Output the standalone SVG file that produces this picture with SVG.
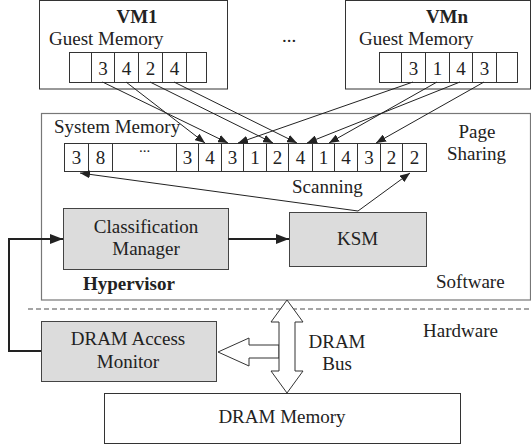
<svg xmlns="http://www.w3.org/2000/svg" width="531" height="446" viewBox="0 0 531 446">
  <style>
    text { font-family: "Liberation Serif", "Times New Roman", serif; font-size: 19px; fill: #222; }
    .b { font-weight: bold; }
    .box { fill: #fff; stroke: #333; stroke-width: 1; }
    .frame { fill: none; stroke: #777; stroke-width: 1.2; }
    .gray { fill: #dcdcdc; stroke: #444; stroke-width: 1; }
    .cell { fill: #fff; stroke: #333; stroke-width: 1; }
    .ln { fill: none; stroke: #222; stroke-width: 1; }
    .thick { fill: none; stroke: #222; stroke-width: 2; }
    .block { fill: #fff; stroke: #333; stroke-width: 1; }
  </style>
  <defs>
    <marker id="ah" markerUnits="userSpaceOnUse" markerWidth="10" markerHeight="8" refX="10" refY="4" orient="auto">
      <path d="M0,0 L10,4 L0,8 z" fill="#222"/>
    </marker>
    <marker id="ahb" markerUnits="userSpaceOnUse" markerWidth="13" markerHeight="10" refX="13" refY="5" orient="auto">
      <path d="M0,0 L13,5 L0,10 z" fill="#222"/>
    </marker>
  </defs>

  <!-- software layer frame and hardware divider -->
  <g id="software">
    <rect class="frame" x="41.5" y="113.5" width="489" height="186.5"/>
    <text x="436" y="288">Software</text>
    <text class="b" x="83" y="290">Hypervisor</text>
  </g>
  <line x1="28" y1="309" x2="531" y2="309" stroke="#888" stroke-width="1.5" stroke-dasharray="5,3"/>
  <text x="423" y="337">Hardware</text>

  <!-- guest VM 1 -->
  <g id="vm1">
    <rect class="box" x="39.5" y="0.5" width="188" height="88.5"/>
    <text class="b" x="137" y="23" text-anchor="middle">VM1</text>
    <text x="49" y="45">Guest Memory</text>
    <rect class="cell" x="69.5" y="52.5" width="22" height="30"/>
    <rect class="cell" x="91.5" y="52.5" width="23" height="30"/>
    <rect class="cell" x="114.5" y="52.5" width="24" height="30"/>
    <rect class="cell" x="138.5" y="52.5" width="24" height="30"/>
    <rect class="cell" x="162.5" y="52.5" width="24" height="30"/>
    <rect class="cell" x="186.5" y="52.5" width="20" height="30"/>
    <text x="103" y="75" text-anchor="middle">3</text>
    <text x="126.5" y="75" text-anchor="middle">4</text>
    <text x="150.5" y="75" text-anchor="middle">2</text>
    <text x="174.5" y="75" text-anchor="middle">4</text>
  </g>

  <text x="289" y="42" text-anchor="middle">...</text>

  <!-- guest VM n -->
  <g id="vmn">
    <rect class="box" x="345.5" y="0.5" width="185" height="88.5"/>
    <text class="b" x="447" y="23" text-anchor="middle">VMn</text>
    <text x="359" y="45">Guest Memory</text>
    <rect class="cell" x="379.5" y="52.5" width="22" height="30"/>
    <rect class="cell" x="401.5" y="52.5" width="24" height="30"/>
    <rect class="cell" x="425.5" y="52.5" width="24" height="30"/>
    <rect class="cell" x="449.5" y="52.5" width="23" height="30"/>
    <rect class="cell" x="472.5" y="52.5" width="24" height="30"/>
    <rect class="cell" x="496.5" y="52.5" width="21" height="30"/>
    <text x="413.5" y="75" text-anchor="middle">3</text>
    <text x="437.5" y="75" text-anchor="middle">1</text>
    <text x="461" y="75" text-anchor="middle">4</text>
    <text x="484.5" y="75" text-anchor="middle">3</text>
  </g>

  <!-- host system memory pages -->
  <g id="system-memory">
    <text x="54" y="133">System Memory</text>
    <rect class="cell" x="64.5" y="143.5" width="24" height="28"/>
    <rect class="cell" x="88.5" y="143.5" width="24" height="28"/>
    <rect class="cell" x="112.5" y="143.5" width="64" height="28"/>
    <rect class="cell" x="176.5" y="143.5" width="22" height="28"/>
    <rect class="cell" x="198.5" y="143.5" width="23" height="28"/>
    <rect class="cell" x="221.5" y="143.5" width="22" height="28"/>
    <rect class="cell" x="243.5" y="143.5" width="23" height="28"/>
    <rect class="cell" x="266.5" y="143.5" width="22" height="28"/>
    <rect class="cell" x="288.5" y="143.5" width="24" height="28"/>
    <rect class="cell" x="312.5" y="143.5" width="22" height="28"/>
    <rect class="cell" x="334.5" y="143.5" width="23" height="28"/>
    <rect class="cell" x="357.5" y="143.5" width="23" height="28"/>
    <rect class="cell" x="380.5" y="143.5" width="22" height="28"/>
    <rect class="cell" x="402.5" y="143.5" width="24" height="28"/>
    <text x="76.5" y="164" text-anchor="middle">3</text>
    <text x="100.5" y="164" text-anchor="middle">8</text>
    <text x="144.5" y="152" text-anchor="middle" style="font-size:15px">...</text>
    <text x="187.5" y="164" text-anchor="middle">3</text>
    <text x="210" y="164" text-anchor="middle">4</text>
    <text x="232.5" y="164" text-anchor="middle">3</text>
    <text x="255" y="164" text-anchor="middle">1</text>
    <text x="277.5" y="164" text-anchor="middle">2</text>
    <text x="300.5" y="164" text-anchor="middle">4</text>
    <text x="323.5" y="164" text-anchor="middle">1</text>
    <text x="346" y="164" text-anchor="middle">4</text>
    <text x="369" y="164" text-anchor="middle">3</text>
    <text x="391.5" y="164" text-anchor="middle">2</text>
    <text x="414.5" y="164" text-anchor="middle">2</text>
    <text x="477" y="138" text-anchor="middle">Page</text>
    <text x="476.5" y="160" text-anchor="middle">Sharing</text>
    <text x="292" y="193">Scanning</text>
  </g>

  <g id="classification-manager">
    <rect class="gray" x="63.5" y="208.5" width="165" height="61"/>
    <text x="146" y="233" text-anchor="middle">Classification</text>
    <text x="146" y="255" text-anchor="middle">Manager</text>
  </g>

  <g id="ksm">
    <rect class="gray" x="289.5" y="212.5" width="137" height="54"/>
    <text x="357.5" y="245" text-anchor="middle">KSM</text>
  </g>

  <g id="dram-access-monitor">
    <rect class="gray" x="41.5" y="321.5" width="175" height="60"/>
    <text x="128" y="345" text-anchor="middle">DRAM Access</text>
    <text x="128" y="368" text-anchor="middle">Monitor</text>
  </g>

  <g id="dram-memory">
    <rect class="box" x="104.5" y="393.5" width="356" height="50"/>
    <text x="282" y="423" text-anchor="middle">DRAM Memory</text>
  </g>

  <g id="dram-bus">
    <polygon class="block" points="218,352 249,338 249,345 279,345 279,358 249,358 249,366"/>
    <polygon class="block" points="287,300 303,322 295,322 295,371 303,371 287,393 271,371 279,371 279,322 271,322"/>
    <text x="337" y="348" text-anchor="middle">DRAM</text>
    <text x="337" y="370" text-anchor="middle">Bus</text>
  </g>

  <!-- connectors -->
  <g id="connectors">
    <line class="ln" x1="102.5" y1="82" x2="228" y2="143" marker-end="url(#ah)"/>
    <line class="ln" x1="126" y1="82" x2="205" y2="143" marker-end="url(#ah)"/>
    <line class="ln" x1="150" y1="82" x2="273" y2="143" marker-end="url(#ah)"/>
    <line class="ln" x1="174" y1="82" x2="297" y2="143" marker-end="url(#ah)"/>
    <line class="ln" x1="413" y1="82" x2="238" y2="143" marker-end="url(#ah)"/>
    <line class="ln" x1="437" y1="82" x2="329" y2="143" marker-end="url(#ah)"/>
    <line class="ln" x1="460" y1="82" x2="307" y2="143" marker-end="url(#ah)"/>
    <line class="ln" x1="484" y1="82" x2="376" y2="143" marker-end="url(#ah)"/>
    <line class="ln" x1="358" y1="211" x2="80" y2="173" marker-end="url(#ah)"/>
    <line class="ln" x1="358" y1="211" x2="410" y2="173" marker-end="url(#ah)"/>
    <line class="thick" x1="228" y1="239" x2="289" y2="239" marker-end="url(#ahb)"/>
    <path class="thick" d="M41,351 H9 V239 H63" marker-end="url(#ahb)"/>
  </g>
</svg>
